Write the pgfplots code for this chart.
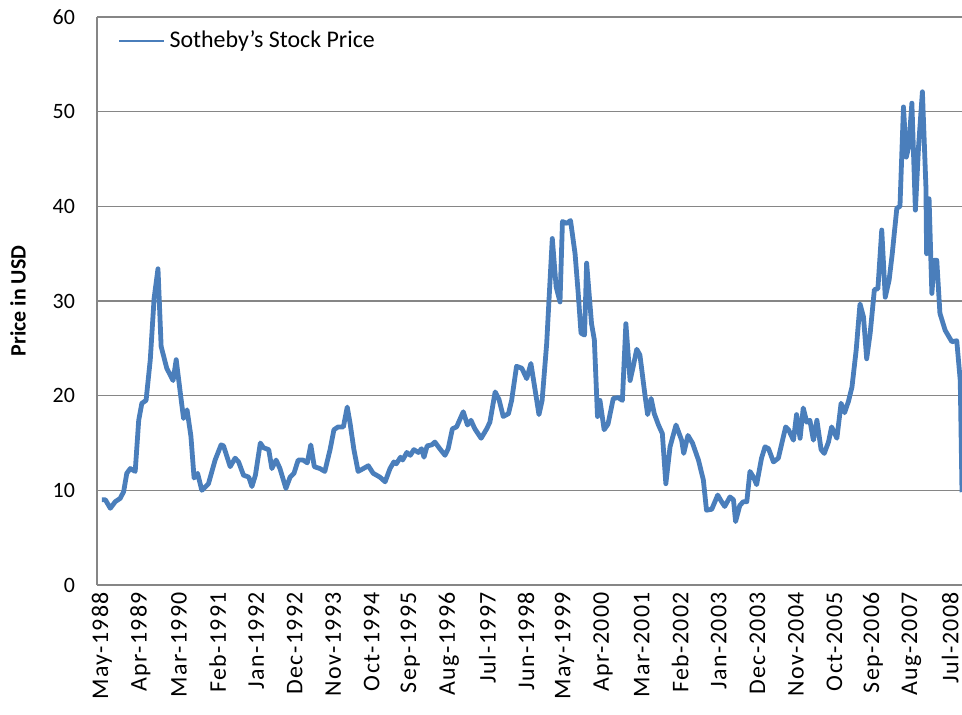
\documentclass[border=0pt]{standalone}
\usepackage{fontspec}
\setmainfont{Carlito}
\newfontfamily\tickfont[LetterSpace=6]{Carlito}
\usepackage{pgfplots}
\pgfplotsset{compat=1.18}
\definecolor{xlblue}{RGB}{74,126,187}
\definecolor{gridgray}{RGB}{134,134,134}
\begin{document}
\begin{tikzpicture}
\useasboundingbox (-48.5bp,-65bp) rectangle (432.5bp,292.5bp);
\begin{axis}[
  scale only axis, width=432.5bp, height=284bp,
  xmin=-1.4, xmax=245.4, ymin=0, ymax=60,
  axis x line*=bottom, axis y line*=left,
  axis line style={gridgray, line width=0.75bp, -},
  ytick={0,10,...,60},
  ymajorgrids, major grid style={gridgray, line width=0.75bp},
  xtick={0,11,...,242},
  xticklabels={May-1988,Apr-1989,Mar-1990,Feb-1991,Jan-1992,Dec-1992,Nov-1993,Oct-1994,Sep-1995,Aug-1996,Jul-1997,Jun-1998,May-1999,Apr-2000,Mar-2001,Feb-2002,Jan-2003,Dec-2003,Nov-2004,Oct-2005,Sep-2006,Aug-2007,Jul-2008},
  major tick length=0pt,
  /pgf/number format/assume math mode=true,
  y tick label style={font=\fontsize{11}{13}\selectfont, xshift=-7.5bp},
  x tick label style={font=\fontsize{12}{14}\selectfont\tickfont, rotate=90, anchor=east},
  ylabel={Price in USD},
  ylabel style={font=\fontsize{11}{13}\selectfont\bfseries, at={(axis description cs:-0.0913,0.5)}, anchor=center},
  legend style={draw=none, fill=none, at={(axis description cs:0.024,0.958)}, anchor=west, font=\fontsize{12}{14}\selectfont, inner sep=0pt},
  legend cell align=left,
  legend image code/.code={\draw[#1, line width=1.2bp] (0bp,0bp) -- (22.5bp,0bp);},
]
\addplot[xlblue, line width=2.4bp, line join=round] coordinates {
(0,9.0)(1,9.0)(2.4,8.1)(3.8,8.8)(5.2,9.15)(6.2,9.85)(7.1,11.8)(8.1,12.3)(9.5,12.0)(10.5,17.4)(11.4,19.2)(12.6,19.5)(13.8,23.8)(14.9,30.3)(16,33.4)(16.9,25.2)(18.5,22.9)(20.3,21.6)(21.2,23.8)(22.4,20.2)(23.3,17.6)(24.3,18.5)(25.4,15.7)(26.3,11.3)(27.3,11.8)(28.5,10.0)(30.4,10.7)(32.3,13.2)(34,14.8)(34.7,14.7)(36.6,12.5)(38,13.4)(39,13.0)(40.4,11.6)(41.9,11.4)(42.8,10.4)(43.8,11.6)(45.2,15.0)(46.1,14.5)(47.6,14.3)(48.5,12.3)
(49.7,13.2)(50.8,12.3)(52.5,10.2)(53.7,11.4)(54.8,11.8)(56,13.2)(57.4,13.2)(58.6,12.9)(59.6,14.8)(60.6,12.5)(62.2,12.3)(63.6,12.0)(65.1,14.3)(66.2,16.4)(67.4,16.7)(68.9,16.7)(70,18.8)(70.8,17.1)(71.9,14.3)(73.1,12.0)(74.6,12.3)(76,12.6)(77.4,11.8)(79.3,11.4)(80.8,10.9)(82.2,12.3)(83.3,13.0)(84,12.8)(85.2,13.5)(85.8,13.2)(87,14.0)(88,13.7)(89,14.3)(90.3,14.0)(91.2,14.4)(91.9,13.5)(92.8,14.7)(94.1,14.8)(95,15.1)(96.4,14.4)(97.9,13.7)
(98.8,14.4)(100,16.5)(101.2,16.7)(103.1,18.3)(104.3,16.9)(105.3,17.4)(106.4,16.5)(108.2,15.5)(109.8,16.5)(110.7,17.2)(112.2,20.4)(113.3,19.6)(114.5,17.8)(116,18.1)(116.9,19.5)(118.3,23.1)(119.8,22.9)(121.2,21.8)(122.4,23.4)(123.6,20.6)(124.7,18.0)(125.6,19.5)(126.9,25.5)(128.5,36.6)(129.6,31.5)(130.7,29.9)(131.4,38.4)(132.6,38.2)(133.7,38.5)(135,35.0)(135.9,30.8)(136.7,26.6)(137.7,26.4)(138.3,34.0)(139.7,27.6)(140.5,25.9)(141.4,17.8)(142.1,19.5)(143.3,16.4)(144.4,17.0)(145.9,19.7)
(147.3,19.8)(148.5,19.5)(149.5,27.6)(150.7,21.6)(151.6,23.1)(152.6,24.9)(153.5,24.3)(155,19.9)(155.7,18.0)(156.7,19.7)(157.6,18.1)(158.8,16.9)(159.9,16.0)(160.9,10.7)(162.1,14.6)(163.8,16.9)(165.4,15.3)(166,13.9)(167.2,15.8)(168.5,15.0)(170.2,13.2)(171.6,11.1)(172.5,7.9)(174,8.0)(175.7,9.5)(176.8,8.8)(177.7,8.3)(179.2,9.3)(180.2,9.0)(180.8,6.7)(182,8.4)(183,8.8)(184,8.8)(184.9,12.0)(185.9,11.4)(186.8,10.6)(188.2,13.4)(189.2,14.6)(190.2,14.4)(191.6,13.0)(193,13.4)(194.2,15.3)(195.1,16.7)
(195.9,16.4)(197.3,15.3)(198.2,18.0)(199.2,15.5)(200.1,18.7)(201.1,17.2)(202,17.4)(203,15.3)(204,17.4)(205.2,14.3)(206.1,13.9)(207.3,15.1)(208.2,16.7)(209.7,15.5)(210.9,19.2)(211.9,18.2)(213,19.4)(214,20.9)(215.2,24.8)(216.3,29.7)(217.3,28.3)(218.2,23.9)(219.2,26.6)(220.4,31.2)(221.4,31.3)(222.5,37.5)(223.5,30.4)(224.6,32.2)(225.5,35.0)(226.8,39.8)(227.7,40.0)(228.7,50.5)(229.5,45.2)(230.2,46.3)(231.1,50.9)(232.1,39.6)(233,46.3)(234.1,52.1)(235.1,42.1)(235.3,35.0)(236,40.8)(236.8,30.8)(237.5,34.3)(238.2,34.3)(239.1,28.7)(240.6,26.9)(242.5,25.7)(243.9,25.8)(244.9,21.6)(245.4,9.8)
};
\addlegendentry{Sotheby's Stock Price}
\end{axis}
\end{tikzpicture}
\end{document}
